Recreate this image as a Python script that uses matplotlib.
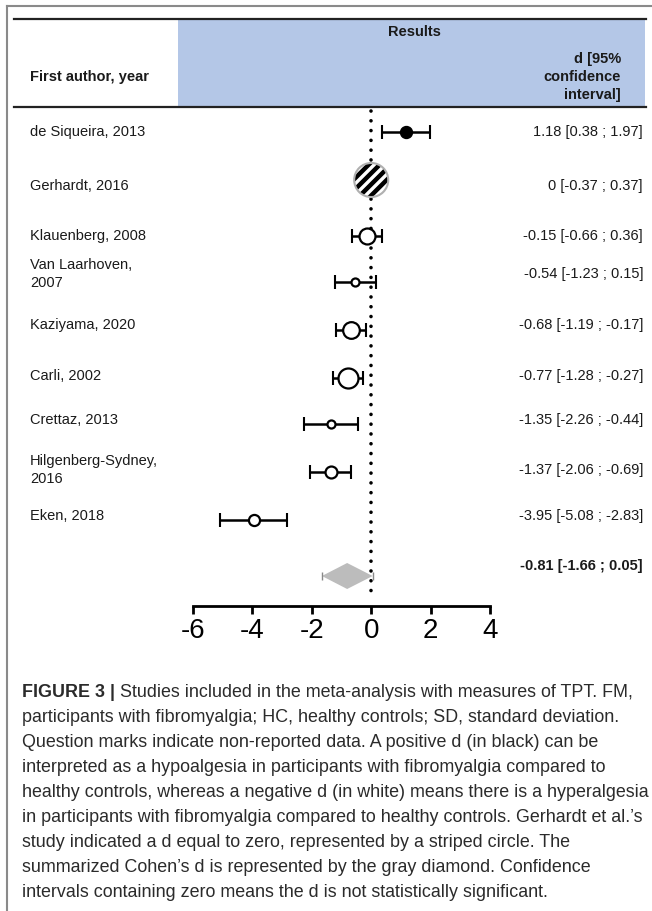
import matplotlib
matplotlib.use("Agg")
import matplotlib.pyplot as plt
from matplotlib import font_manager
from matplotlib.lines import Line2D
from matplotlib.patches import Rectangle

# dados do forest plot
autores = ["de Siqueira, 2013", "Gerhardt, 2016", "Klauenberg, 2008",
           "Van Laarhoven,\n2007", "Kaziyama, 2020", "Carli, 2002",
           "Crettaz, 2013", "Hilgenberg-Sydney,\n2016", "Eken, 2018"]
d_val = [1.18, 0, -0.15, -0.54, -0.68, -0.77, -1.35, -1.37, -3.95]
ic_inf = [0.38, -0.37, -0.66, -1.23, -1.19, -1.28, -2.26, -2.06, -5.08]
ic_sup = [1.97, 0.37, 0.36, 0.15, -0.17, -0.27, -0.44, -0.69, -2.83]
d_total = -0.81
ic_total = [-1.66, 0.05]
x_ticks = [-6, -4, -2, 0, 2, 4]

legenda_titulo = "FIGURE 3 |"
legenda = [
    " Studies included in the meta-analysis with measures of TPT. FM,",
    "participants with fibromyalgia; HC, healthy controls; SD, standard deviation.",
    "Question marks indicate non-reported data. A positive d (in black) can be",
    "interpreted as a hypoalgesia in participants with fibromyalgia compared to",
    "healthy controls, whereas a negative d (in white) means there is a hyperalgesia",
    "in participants with fibromyalgia compared to healthy controls. Gerhardt et al.\u2019s",
    "study indicated a d equal to zero, represented by a striped circle. The",
    "summarized Cohen\u2019s d is represented by the gray diamond. Confidence",
    "intervals containing zero means the d is not statistically significant.",
]

# layout (pixels)
W, H = 652, 912
y_marc = [133, 181, 237, 283, 331, 379, 425, 473, 521]
y_texto = [132, 186, 236, 274, 325, 376, 420, 470, 516]
y_diam, y_diam_txt = 577, 566
tam_marc = [8.6, 21.5, 11.5, 5.8, 12, 14.4, 5.8, 8.6, 8]

plt.rcParams["hatch.linewidth"] = 3.2
plt.rcParams["axes.unicode_minus"] = False
nomes = {f.name for f in font_manager.fontManager.ttflist}
fonte = "Liberation Sans" if "Liberation Sans" in nomes else "DejaVu Sans"
fonte_leg = "Liberation Sans Narrow" if "Liberation Sans Narrow" in nomes else fonte

fig = plt.figure(figsize=(W / 100, H / 100), dpi=100)


def fx(px):
    return px / W


def fy(py):
    return 1 - py / H


# moldura e cabecalho
fig.add_artist(Line2D([fx(7), fx(7)], [fy(7), fy(912)], color="#8a8a8a", lw=1.5))
fig.add_artist(Line2D([fx(7), fx(652)], [fy(7), fy(7)], color="#8a8a8a", lw=1.5))
fig.add_artist(Rectangle((fx(178), fy(108)), fx(645) - fx(178), fy(20) - fy(108),
                         facecolor="#b4c7e7", edgecolor="none"))
fig.add_artist(Line2D([fx(14), fx(646)], [fy(20), fy(20)], color="#222222", lw=1.6))
fig.add_artist(Line2D([fx(14), fx(646)], [fy(108), fy(108)], color="#222222", lw=1.6))

fig.text(fx(414), fy(32), "Results", ha="center", va="center",
         fontsize=10.5, fontweight="bold", family=fonte, color="#1a1a1a")
fig.text(fx(621), fy(77), "d [95%\nconfidence\ninterval]", ha="right", va="center",
         fontsize=10.5, fontweight="bold", family=fonte, color="#1a1a1a",
         linespacing=1.35, multialignment="right")
fig.text(fx(30), fy(77), "First author, year", ha="left", va="center",
         fontsize=10.5, fontweight="bold", family=fonte, color="#1a1a1a")

# textos das linhas
for nome, a, b, c, yt in zip(autores, d_val, ic_inf, ic_sup, y_texto):
    fig.text(fx(30), fy(yt), nome, ha="left", va="center", fontsize=10.5,
             family=fonte, color="#1a1a1a", linespacing=1.35)
    fig.text(fx(643), fy(yt), f"{a:g} [{b:g} ; {c:g}]", ha="right", va="center",
             fontsize=10.5, family=fonte, color="#1a1a1a")
fig.text(fx(643), fy(y_diam_txt), f"{d_total:g} [{ic_total[0]:g} ; {ic_total[1]:g}]",
         ha="right", va="center", fontsize=10.5, fontweight="bold", family=fonte,
         color="#1a1a1a")

# eixo do forest plot
ax = fig.add_axes([fx(193), 0, fx(490) - fx(193), 1])
ax.set_xlim(x_ticks[0], x_ticks[-1])
ax.set_ylim(H, 0)
ax.patch.set_visible(False)
for s in ["top", "left", "right"]:
    ax.spines[s].set_visible(False)
ax.spines["bottom"].set_position(("data", 607))
ax.spines["bottom"].set_linewidth(2)
ax.set_yticks([])
ax.set_xticks(x_ticks)
ax.tick_params(axis="x", direction="out", length=6, width=2, labelsize=20, pad=2)
for t in ax.get_xticklabels():
    t.set_family(fonte)

ax.plot([0, 0], [112, 600], color="black", lw=2.6, linestyle=(0, (0.01, 2.7)),
        dash_capstyle="round", solid_capstyle="round")

for i, (a, b, c) in enumerate(zip(d_val, ic_inf, ic_sup)):
    y = y_marc[i]
    ax.errorbar(a, y, xerr=[[a - b], [c - a]], fmt="none", ecolor="black",
                elinewidth=1.8, capsize=5, capthick=1.5, zorder=2, clip_on=False)
    if a > 0:
        ax.plot(a, y, "o", ms=tam_marc[i], mfc="black", mec="black", zorder=3)
    elif a == 0:
        ax.scatter(a, y, s=(tam_marc[i] + 3) ** 2, marker="o", facecolor="white",
                   edgecolor="black", hatch="///", linewidth=0, zorder=3)
        ax.scatter(a, y, s=(tam_marc[i] + 3) ** 2, marker="o", facecolor="none",
                   edgecolor="#b0b0b0", linewidth=1.5, zorder=4)
    else:
        ax.plot(a, y, "o", ms=tam_marc[i], mfc="white", mec="black", mew=1.6, zorder=3)

ax.fill([ic_total[0], d_total, ic_total[1], d_total],
        [y_diam, y_diam - 13, y_diam, y_diam + 13],
        color="#bcbcbc", lw=0, zorder=3)
ax.vlines(ic_total, y_diam - 4, y_diam + 4, color="#888888", lw=1, zorder=3)

# legenda da figura
fig.canvas.draw()
r = fig.canvas.get_renderer()
t0 = fig.text(fx(22), fy(693), legenda_titulo, ha="left", va="center",
              fontsize=13, fontweight="bold", family=fonte_leg, color="#2b2b2b")
teste = fig.text(0, 0, legenda[4], fontsize=13, family=fonte_leg)
larg = teste.get_window_extent(r).width
teste.remove()
tam_leg = 13 * 625 / larg
t0.set_fontsize(tam_leg)
bb = t0.get_window_extent(r)
for i, linha in enumerate(legenda):
    x0 = fx(22) if i > 0 else bb.x1 / W
    fig.text(x0, fy(693 + 25 * i), linha, ha="left", va="center",
             fontsize=tam_leg, family=fonte_leg, color="#2b2b2b")

fig.savefig("out.png", dpi=100)
